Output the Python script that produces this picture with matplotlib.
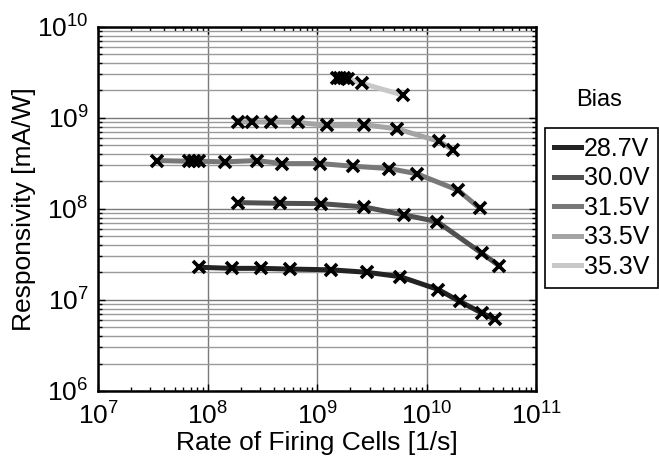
import matplotlib
matplotlib.use("Agg")
import matplotlib.pyplot as plt
from matplotlib.ticker import LogLocator, NullFormatter
from matplotlib.lines import Line2D

plt.rcParams['font.family'] = ['Liberation Sans', 'DejaVu Sans']
plt.rcParams['mathtext.fontset'] = 'custom'
plt.rcParams['mathtext.rm'] = 'Liberation Sans'

# bias voltages and line shades
bias = ['28.7V', '30.0V', '31.5V', '33.5V', '35.3V']
shades = ['#232323', '#505050', '#787878', '#a4a4a4', '#c8c8c8']

# rate of firing cells [1/s] and responsivity [mA/W]
rate_287 = [8.4e7, 1.67e8, 3.08e8, 5.64e8, 1.33e9, 2.82e9, 5.69e9, 1.27e10, 2.0e10, 3.16e10, 4.18e10]
resp_287 = [2.28e7, 2.22e7, 2.22e7, 2.18e7, 2.14e7, 2.01e7, 1.8e7, 1.3e7, 9.6e6, 7.2e6, 6.1e6]

rate_300 = [1.9e8, 4.57e8, 1.08e9, 2.67e9, 6.22e9, 1.24e10, 3.16e10, 4.58e10]
resp_300 = [1.17e8, 1.15e8, 1.14e8, 1.05e8, 8.56e7, 7.24e7, 3.26e7, 2.37e7]

rate_315 = [3.42e7, 6.75e7, 7.5e7, 8.33e7, 1.44e8, 2.8e8, 4.8e8, 1.06e9, 2.1e9, 4.54e9, 8.07e9, 1.93e10, 3.05e10]
resp_315 = [3.39e8, 3.33e8, 3.33e8, 3.33e8, 3.28e8, 3.39e8, 3.14e8, 3.14e8, 2.94e8, 2.77e8, 2.43e8, 1.6e8, 1.01e8]

rate_335 = [1.88e8, 2.52e8, 3.76e8, 6.62e8, 1.23e9, 2.67e9, 5.3e9, 1.29e10, 1.72e10]
resp_335 = [8.98e8, 8.98e8, 8.98e8, 8.9e8, 8.24e8, 8.38e8, 7.58e8, 5.51e8, 4.47e8]

rate_353 = [1.5e9, 1.62e9, 1.75e9, 1.9e9, 2.54e9, 6.01e9]
resp_353 = [2.75e9, 2.75e9, 2.72e9, 2.7e9, 2.39e9, 1.78e9]

rates = [rate_287, rate_300, rate_315, rate_335, rate_353]
resps = [resp_287, resp_300, resp_315, resp_335, resp_353]

fig = plt.figure(figsize=(6.59, 4.61), dpi=100)
ax = fig.add_axes([0.149, 0.152, 0.665, 0.79])

for x, y, c in zip(rates, resps, shades):
    ax.plot(x, y, color=c, lw=3.6, solid_capstyle='round', zorder=3)
    ax.plot(x, y, ls='none', marker='x', ms=9, mew=2.6, color='black', zorder=4)

ax.set_xscale('log')
ax.set_yscale('log')
ax.set_xlim(1e7, 1e11)
ax.set_ylim(1e6, 1e10)

ax.xaxis.set_major_locator(LogLocator(base=10, numticks=10))
ax.yaxis.set_major_locator(LogLocator(base=10, numticks=10))
ax.xaxis.set_minor_locator(LogLocator(base=10, subs=range(2, 10), numticks=20))
ax.yaxis.set_minor_locator(LogLocator(base=10, subs=range(2, 10), numticks=20))
ax.xaxis.set_minor_formatter(NullFormatter())
ax.yaxis.set_minor_formatter(NullFormatter())

ax.grid(True, which='major', axis='both', color='#7a7a7a', lw=1.0, zorder=1)
ax.grid(True, which='minor', axis='y', color='#9a9a9a', lw=1.0, zorder=1)

ax.tick_params(which='both', direction='in', top=True, right=True, labelsize=19)
ax.tick_params(which='major', length=5, width=1)
ax.tick_params(which='minor', length=3, width=1)
ax.tick_params(axis='x', which='major', pad=8)
ax.tick_params(axis='y', which='major', pad=7)
for s in ax.spines.values():
    s.set_linewidth(1.8)

ax.set_xlabel('Rate of Firing Cells [1/s]', fontsize=19, labelpad=1)
ax.set_ylabel('Responsivity [mA/W]', fontsize=19, labelpad=1)

handles = [Line2D([], [], color=c, lw=3.6) for c in shades]
leg = fig.legend(handles, bias, loc='upper left', bbox_to_anchor=(0.827, 0.722),
                 borderaxespad=0, fontsize=18, handlelength=1.1, handletextpad=0.1,
                 labelspacing=0.22, borderpad=0.35, fancybox=False,
                 edgecolor='black', framealpha=1)
leg.get_frame().set_linewidth(1.2)
fig.text(0.909, 0.783, 'Bias', fontsize=17, ha='center', va='center')

fig.savefig('out.png', dpi=100)
